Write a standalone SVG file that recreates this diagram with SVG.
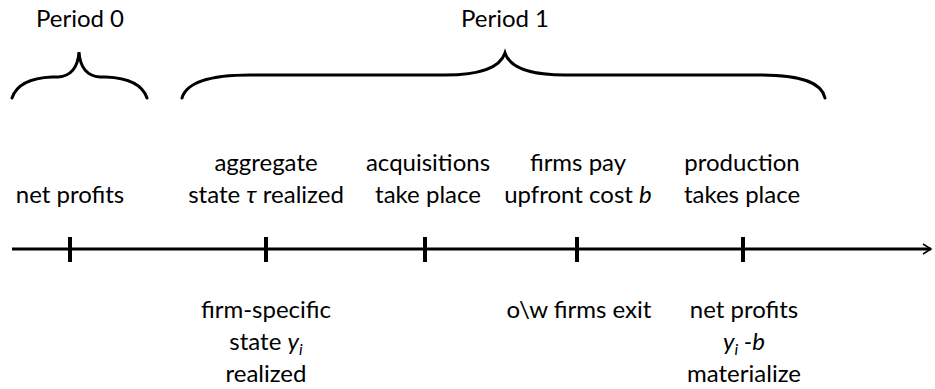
<svg xmlns="http://www.w3.org/2000/svg" width="935" height="389" viewBox="0 0 935 389">
<style>
text{font-family:Lato,"Open Sans","DejaVu Sans",sans-serif;font-size:24px;fill:#000;text-anchor:middle}
.it{font-style:italic}
.sub{font-size:16px;font-style:italic}
.brace{fill:none;stroke:#000;stroke-width:3;stroke-linecap:round}
.tick{stroke:#000;stroke-width:4}
.axis{stroke:#000;stroke-width:3;fill:none}
</style>
<defs>
<marker id="arr" markerWidth="12" markerHeight="12" refX="9" refY="6" orient="auto" markerUnits="userSpaceOnUse">
<polyline points="1,1 9,6 1,11" fill="none" stroke="#000" stroke-width="1.5"/>
</marker>
</defs>
<g id="period0">
<text x="80" y="27">Period 0</text>
<path class="brace" d="M12,98 C16,86 28,78 52,77 L58,77 C72,76 78,66 79,52 C80,66 86,76 100,77 L106,77 C130,78 143,86 147,98"/>
</g>
<g id="period1">
<text x="505" y="27">Period 1</text>
<path class="brace" d="M182,98 C186,84 205,75 250,75 L445,75 C480,75 500,68 505,53 C510,68 530,75 565,75 L760,75 C805,75 822,84 825,98"/>
</g>
<g id="connectors">
<line class="axis" x1="12" y1="249" x2="931" y2="249" marker-end="url(#arr)"/>
<line class="tick" x1="70" y1="237" x2="70" y2="262"/>
<line class="tick" x1="266" y1="237" x2="266" y2="262"/>
<line class="tick" x1="425" y1="237" x2="425" y2="262"/>
<line class="tick" x1="577" y1="237" x2="577" y2="262"/>
<line class="tick" x1="743" y1="237" x2="743" y2="262"/>
</g>
<g id="t0">
<text x="70" y="203">net profits</text>
</g>
<g id="t1">
<text x="266" y="171">aggregate</text>
<text x="266" y="203">state <tspan class="it">τ</tspan> realized</text>
<text x="266" y="318">firm-specific</text>
<text x="266" y="350">state <tspan class="it">y</tspan><tspan class="sub" dy="5">i</tspan></text>
<text x="266" y="382">realized</text>
</g>
<g id="t2">
<text x="428" y="171">acquisitions</text>
<text x="428" y="203">take place</text>
</g>
<g id="t3">
<text x="578" y="171">firms pay</text>
<text x="578" y="203">upfront cost <tspan class="it">b</tspan></text>
<text x="579" y="318">o\w firms exit</text>
</g>
<g id="t4">
<text x="742" y="171">production</text>
<text x="742" y="203">takes place</text>
<text x="744" y="318">net profits</text>
<text x="744" y="350"><tspan class="it">y</tspan><tspan class="sub" dy="5">i</tspan><tspan class="it" dy="-5"> -b</tspan></text>
<text x="744" y="382">materialize</text>
</g>
</svg>
